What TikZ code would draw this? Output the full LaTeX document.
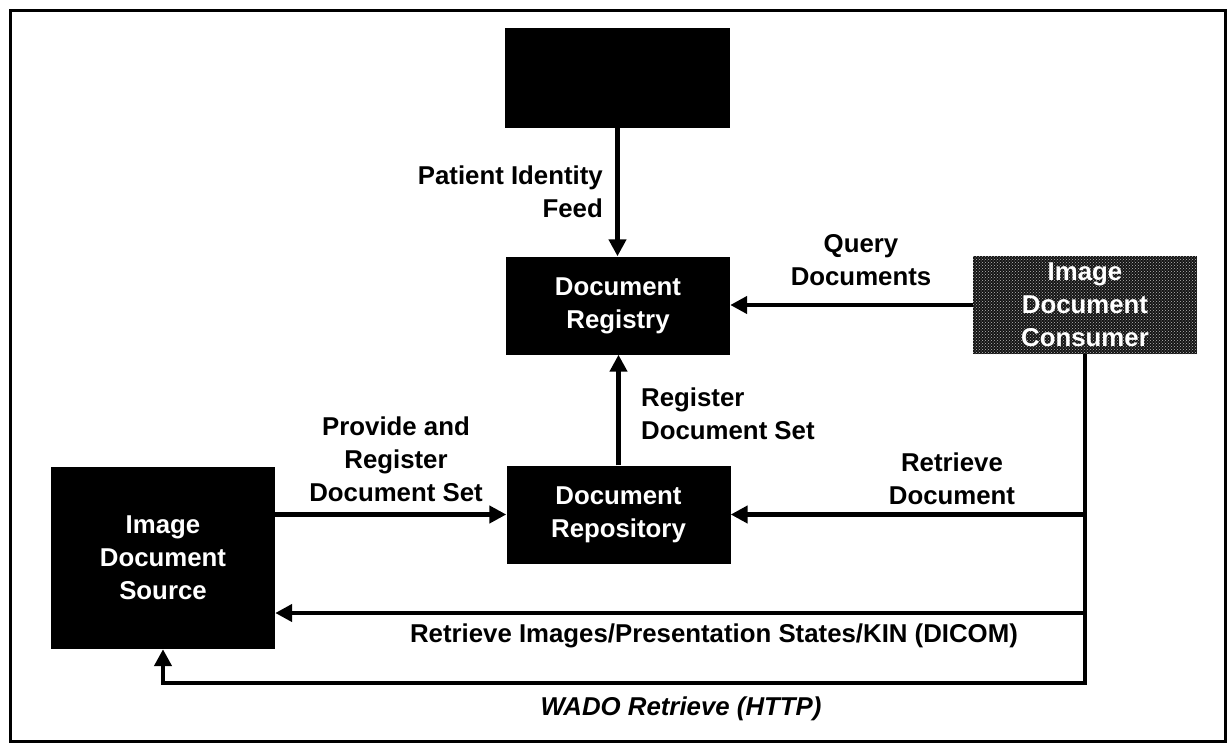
\documentclass[tikz,border=0pt]{standalone}
\usepackage{fontspec}
\setmainfont{Liberation Sans}
\usetikzlibrary{arrows.meta,patterns}
\begin{document}
\begin{tikzpicture}[x=1pt,y=-1pt,
  txt/.style={font=\fontsize{25.8}{33}\selectfont\bfseries},
  box/.style={txt, fill=black, draw=none, minimum width=224pt, minimum height=98pt,
    text=white, align=center, inner sep=0pt},
  lbl/.style={txt, inner sep=0pt, align=center},
  link/.style={line width=4.5pt, line join=miter},
  arr/.style={link, -{Triangle[length=17pt,width=17pt]}}]
\useasboundingbox (0,0) rectangle (1227,744);
\draw[line width=3pt] (10,10) rectangle (1225,741);

\node[box, minimum width=225pt, minimum height=100pt] (pix) at (617.5,78) {};
\node[box] (reg) at (618,305.5) {Document\\Registry};
\node[box, fill=black!92, postaction={pattern=crosshatch dots, pattern color=gray!55}] (cons) at (1085,305) {Image\\Document\\Consumer};
\node[box] (repo) at (618.5,514.5) {Document\\Repository};
\node[box, minimum height=182pt] (src) at (163,558) {Image\\Document\\Source};

\coordinate (wc) at (cons.south |- 0,683);
\coordinate (dc) at (cons.south |- 0,613);

\draw[arr] (pix.south) -- (pix.south |- reg.north);
\draw[arr] (cons.west) -- (reg.east |- cons.west);
\draw[arr] (repo.north) -- (repo.north |- reg.south);
\draw[arr] (src.east |- repo.west) -- (repo.west);
\draw[arr] (cons.south) -- (wc) -| (src.south);
\draw[arr] (cons.south |- repo.east) -- (repo.east);
\draw[arr] (dc) -- (src.east |- dc);

\node[lbl, align=right, anchor=east] (lpif) at (603,192) {Patient Identity\\Feed};
\node[lbl] (lq) at (861,260) {Query\\Documents};
\node[lbl, align=left, anchor=west] (lrds) at (641,414) {Register\\Document Set};
\node[lbl] (lprds) at (396,459) {Provide and\\Register\\Document Set};
\node[lbl] (lrd) at (952,479) {Retrieve\\Document};
\node[lbl] (ldicom) at (714,636) {Retrieve Images/Presentation States/KIN (DICOM)};
\node[lbl, font=\fontsize{25.8}{33}\selectfont\bfseries\itshape] (lwado) at (681,709) {WADO Retrieve (HTTP)};
\end{tikzpicture}
\end{document}
